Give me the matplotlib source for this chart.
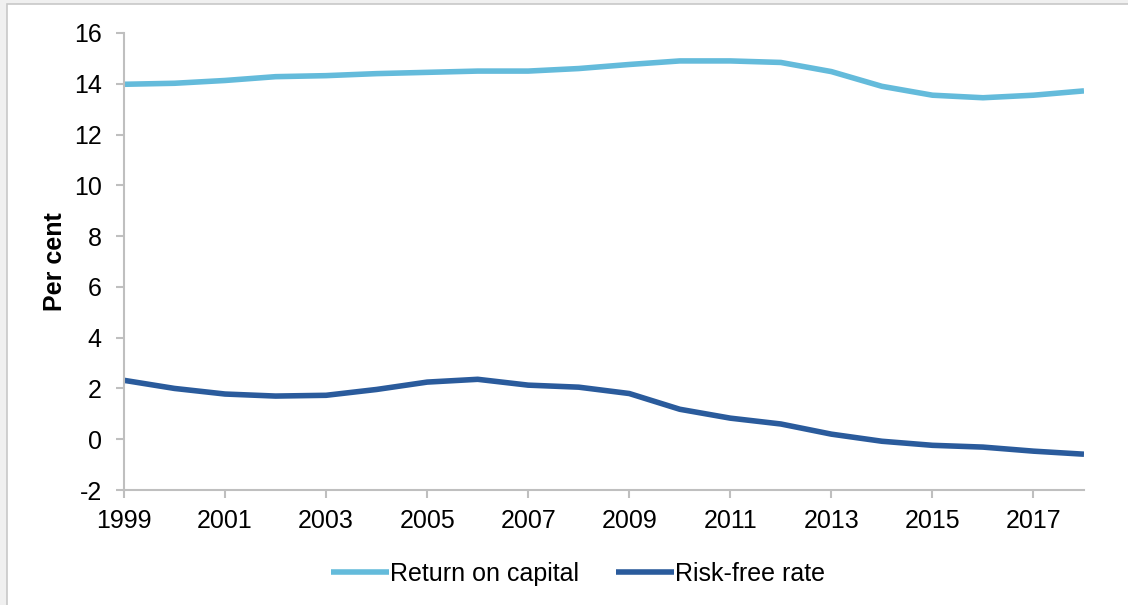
import matplotlib.pyplot as plt
from matplotlib.patches import Rectangle

plt.rcParams['font.family'] = ['Liberation Sans', 'DejaVu Sans']

# --- data ---
years = list(range(1999, 2019))
return_on_capital = [13.98, 14.02, 14.13, 14.28, 14.32, 14.40, 14.45, 14.50, 14.50, 14.60,
                     14.76, 14.90, 14.90, 14.84, 14.48, 13.90, 13.55, 13.45, 13.55, 13.72]
risk_free_rate = [2.32, 2.00, 1.78, 1.70, 1.73, 1.96, 2.25, 2.36, 2.13, 2.05,
                  1.80, 1.18, 0.83, 0.60, 0.20, -0.08, -0.24, -0.31, -0.47, -0.59]
x_ticks = list(range(1999, 2019, 2))
y_ticks = list(range(-2, 17, 2))

light = '#64bbdb'
dark = '#2a5b9c'
grey = '#bfbfbf'

fig = plt.figure(figsize=(11.28, 6.05), dpi=100)
fig.patch.set_facecolor('#f0f0f0')
# white panel with thin border, kept behind the axes
fig.patches.append(Rectangle((7 / 1128, -0.05), 1.2, (605 - 4) / 605 + 0.05, transform=fig.transFigure,
                             facecolor='white', edgecolor='#c8c8c8', linewidth=1.2, zorder=-10))

ax = fig.add_axes([124 / 1128, 1 - 490 / 605, (1084 - 124) / 1128, (490 - 33) / 605])
ax.set_zorder(5)
ax.set_facecolor('none')
ax.plot(years, return_on_capital, color=light, lw=4, label='Return on capital', solid_capstyle='butt')
ax.plot(years, risk_free_rate, color=dark, lw=4, label='Risk-free rate', solid_capstyle='butt')

ax.set_xlim(1999, 2018)
ax.set_ylim(-2, 16)
ax.set_xticks(x_ticks)
ax.set_yticks(y_ticks)
ax.set_yticklabels([str(v) for v in y_ticks])
for s in ['top', 'right']:
    ax.spines[s].set_visible(False)
for s in ['left', 'bottom']:
    ax.spines[s].set_color(grey)
    ax.spines[s].set_linewidth(1.5)
ax.tick_params(axis='both', colors=grey, length=6, width=1.5, labelsize=18, labelcolor='black')
ax.tick_params(axis='y', pad=10)
ax.tick_params(axis='x', pad=7.5)
ax.set_ylabel('Per cent', fontsize=18, fontweight='bold')
ax.yaxis.set_label_coords(-0.059, 0.5)

ax.legend(loc='center', bbox_to_anchor=(0.473, -0.184), ncol=2, frameon=False,
          fontsize=18, handlelength=2.3, handletextpad=0.05, columnspacing=1.5)

fig.savefig('out.png', dpi=100, facecolor=fig.get_facecolor())
